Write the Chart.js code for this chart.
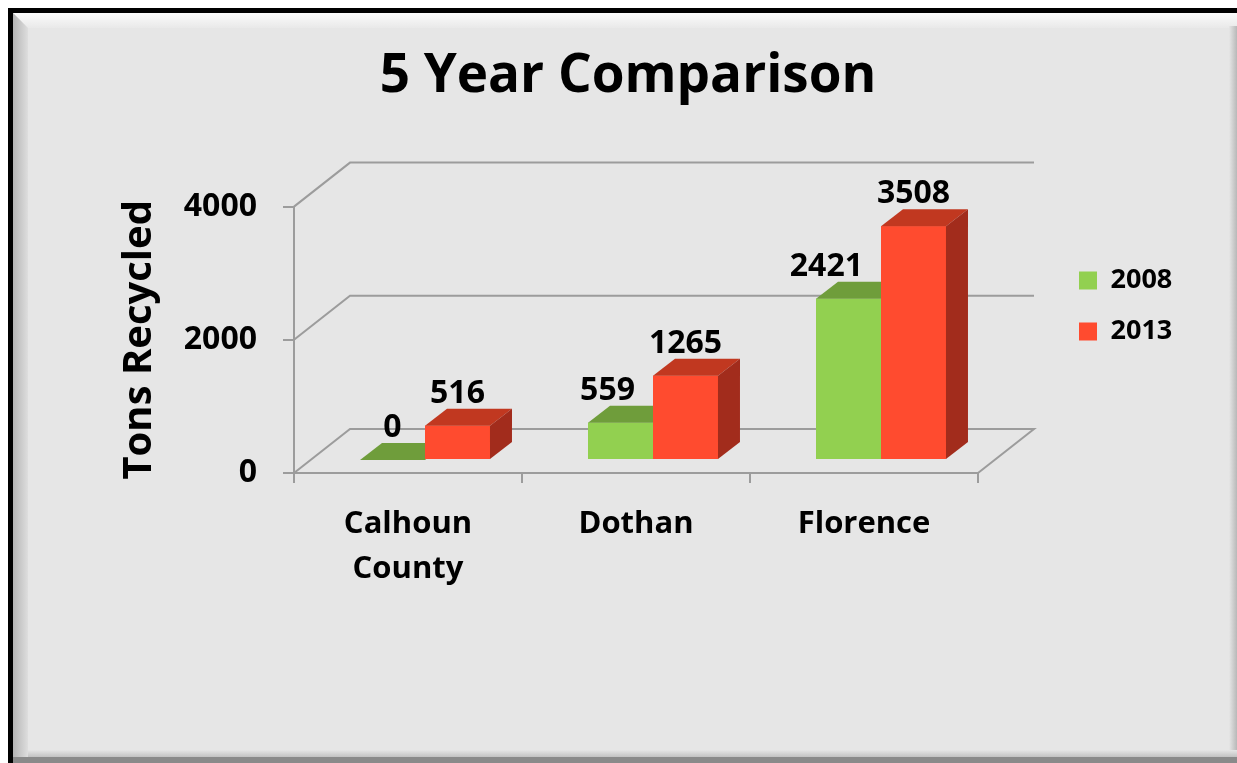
<!DOCTYPE html>
<html>
<head>
<meta charset="utf-8">
<script src="https://cdn.jsdelivr.net/npm/chart.js@4.4.1/dist/chart.umd.min.js"></script>
<style>
  html, body { margin: 0; padding: 0; background: #fff; }
  canvas { display: block; }
</style>
</head>
<body>
<canvas id="chart" width="1237" height="763"></canvas>
<script>
// values
var categories = [['Calhoun', 'County'], 'Dothan', 'Florence'];
var seriesNames = ['2008', '2013'];
var tons2008 = [0, 559, 2421];
var tons2013 = [516, 1265, 3508];
var yTicks = [0, 2000, 4000];

// colours of the front, top and side faces of each series
var frontColors = ['#92d050', '#ff4b2f'];
var topColors = ['#6f9d3b', '#c13820'];
var sideColors = ['#5d8631', '#a22c1c'];
var GRID = '#9c9c9c';

// fake 3d geometry (pixels)
var BAR_SHIFT = {x: 17, y: -13};     // bars sit a bit behind the front plane
var BAR_DEPTH = {x: 22, y: -17};
var WALL_DEPTH = {x: 56, y: -44};
var LABEL_GAP = -23;                 // label baseline above the bar front top
var LABEL_CLEAR = 18;                // keep left labels clear of the next bar
var PLOT_RIGHT = 978;
var TITLE_CENTER_X = 628;
var LEGEND_ROW = {x: 1079, y: 267};

Chart.defaults.font.family = '"Open Sans", "Noto Sans", sans-serif';
Chart.defaults.color = '#000';

function fillPoly(ctx, pts, color) {
  ctx.beginPath();
  ctx.moveTo(pts[0][0], pts[0][1]);
  for (var i = 1; i < pts.length; i++) ctx.lineTo(pts[i][0], pts[i][1]);
  ctx.closePath();
  ctx.fillStyle = color;
  ctx.fill();
}

// grey panel with a black edge and bevel, like the slide frame
var framePlugin = {
  id: 'frame',
  beforeDraw: function(chart) {
    var ctx = chart.ctx, w = chart.width, h = chart.height;
    ctx.save();
    ctx.fillStyle = '#fff';
    ctx.fillRect(0, 0, w, h);
    ctx.fillStyle = '#000';
    ctx.fillRect(8, 8, w - 8, h - 8);
    ctx.fillStyle = '#e6e6e6';
    ctx.fillRect(13, 13, w - 13, h - 13);

    var g = ctx.createLinearGradient(0, 13, 0, 28);
    g.addColorStop(0, '#fbfbfb');
    g.addColorStop(1, '#e9e9e9');
    fillPoly(ctx, [[13, 13], [w, 13], [w, 28], [28, 28]], g);

    g = ctx.createLinearGradient(13, 0, 28, 0);
    g.addColorStop(0, '#b4b4b4');
    g.addColorStop(1, '#dedede');
    fillPoly(ctx, [[13, 13], [28, 28], [28, h], [13, h]], g);

    g = ctx.createLinearGradient(w - 8, 0, w, 0);
    g.addColorStop(0, '#e6e6e6');
    g.addColorStop(1, '#b8b8b8');
    ctx.fillStyle = g;
    ctx.fillRect(w - 8, 26, 8, h - 26);

    g = ctx.createLinearGradient(0, h - 13, 0, h - 6);
    g.addColorStop(0, '#e6e6e6');
    g.addColorStop(1, '#c2c2c2');
    ctx.fillStyle = g;
    ctx.fillRect(28, h - 13, w - 28, 7);
    ctx.fillStyle = '#8a8a8a';
    ctx.fillRect(13, h - 6, w - 13, 6);
    ctx.restore();
  },
  afterLayout: function(chart) {
    // move the title and legend to where the original has them
    var tb = chart.titleBlock;
    var s = TITLE_CENTER_X - (tb.left + tb.right) / 2;
    tb.left += s;
    tb.right += s;

    var lg = chart.legend;
    var pad = lg.options.labels.padding;
    var dx = LEGEND_ROW.x - pad - lg.left;
    var dy = LEGEND_ROW.y - pad - lg.top;
    lg.left += dx; lg.right += dx;
    lg.top += dy; lg.bottom += dy;
  }
};

// side wall, back wall and floor, then the bar tops and sides
var bars3dPlugin = {
  id: 'bars3d',
  beforeDatasetsDraw: function(chart) {
    var ctx = chart.ctx, area = chart.chartArea, ys = chart.scales.y;
    ctx.save();
    ctx.strokeStyle = GRID;
    ctx.lineWidth = 2;
    ys.ticks.forEach(function(t) {
      var py = ys.getPixelForValue(t.value);
      ctx.beginPath();
      ctx.moveTo(area.left, py);
      ctx.lineTo(area.left + WALL_DEPTH.x, py + WALL_DEPTH.y);
      ctx.lineTo(area.right + WALL_DEPTH.x, py + WALL_DEPTH.y);
      if (t.value === 0) ctx.lineTo(area.right, py);
      ctx.stroke();
    });
    ctx.restore();
    ctx.save();
    ctx.translate(BAR_SHIFT.x, BAR_SHIFT.y);
  },
  afterDatasetsDraw: function(chart) {
    var ctx = chart.ctx;
    var n = chart.data.datasets.length;
    // redraw series in order so the right bar hides the left bar's side
    chart.data.datasets.forEach(function(ds, di) {
      chart.getDatasetMeta(di).data.forEach(function(bar) {
        var p = bar.getProps(['x', 'y', 'width', 'base'], true);
        var l = p.x - p.width / 2, r = p.x + p.width / 2;
        bar.draw(ctx);
        fillPoly(ctx, [[l, p.y], [r, p.y], [r + BAR_DEPTH.x, p.y + BAR_DEPTH.y], [l + BAR_DEPTH.x, p.y + BAR_DEPTH.y]], topColors[di]);
        fillPoly(ctx, [[r, p.y], [r + BAR_DEPTH.x, p.y + BAR_DEPTH.y], [r + BAR_DEPTH.x, p.base + BAR_DEPTH.y], [r, p.base]], sideColors[di]);
      });
    });
    ctx.restore();

    ctx.save();
    ctx.font = 'bold 32px "Open Sans", "Noto Sans", sans-serif';
    ctx.fillStyle = '#000';
    ctx.textAlign = 'center';
    ctx.textBaseline = 'alphabetic';
    chart.data.datasets.forEach(function(ds, di) {
      chart.getDatasetMeta(di).data.forEach(function(bar, i) {
        var text = String(ds.data[i]);
        var x = bar.x + BAR_SHIFT.x;
        if (di < n - 1) {
          var half = ctx.measureText(text).width / 2;
          x = Math.min(x, x + bar.width / 2 - LABEL_CLEAR - half);
        }
        ctx.fillText(text, x, bar.y + BAR_SHIFT.y + LABEL_GAP);
      });
    });
    ctx.restore();
  }
};

var chart = new Chart(document.getElementById('chart'), {
  type: 'bar',
  data: {
    labels: categories,
    datasets: [
      {label: seriesNames[0], data: tons2008, backgroundColor: frontColors[0], borderWidth: 0, clip: false},
      {label: seriesNames[1], data: tons2013, backgroundColor: frontColors[1], borderWidth: 0, clip: false}
    ]
  },
  options: {
    responsive: false,
    animation: false,
    events: [],
    layout: {padding: {left: 0, right: 100, top: 0, bottom: 0}},
    datasets: {bar: {categoryPercentage: 0.57, barPercentage: 1.0}},
    plugins: {
      title: {
        display: true,
        text: '5 Year Comparison',
        color: '#000',
        font: {size: 53, weight: 'bold'},
        padding: {top: 45, bottom: 98}
      },
      legend: {
        position: 'right',
        align: 'start',
        labels: {
          boxWidth: 18,
          boxHeight: 18,
          padding: 24,
          color: '#000',
          font: {size: 27, weight: 'bold'},
          sort: function(a, b) { return a.datasetIndex - b.datasetIndex; }
        }
      },
      tooltip: {enabled: false}
    },
    scales: {
      x: {
        afterFit: function(scale) { scale.height = 290; },
        grid: {drawOnChartArea: false, drawTicks: true, tickLength: 10, color: GRID, lineWidth: 2},
        border: {display: true, color: GRID, width: 2},
        ticks: {
          color: '#000',
          padding: 19,
          maxRotation: 0,
          font: {size: 31, weight: 'bold', lineHeight: 1.45}
        }
      },
      y: {
        min: yTicks[0],
        max: yTicks[yTicks.length - 1],
        afterFit: function(scale) { scale.width = 294; },
        afterBuildTicks: function(scale) {
          scale.ticks = yTicks.map(function(v) { return {value: v}; });
        },
        grid: {drawOnChartArea: false, drawTicks: true, tickLength: 11, color: GRID, lineWidth: 2},
        border: {display: true, color: GRID, width: 2},
        ticks: {
          color: '#000',
          padding: 26,
          font: {size: 32, weight: 'bold'},
          callback: function(v) { return String(v); }
        },
        title: {
          display: true,
          text: 'Tons Recycled',
          color: '#000',
          font: {size: 40, weight: 'bold'},
          padding: {top: 116, bottom: 0}
        }
      }
    }
  },
  plugins: [framePlugin, bars3dPlugin]
});

// fit the plot's right edge to the reference once the legend width is known
chart.options.layout.padding.right = chart.width - PLOT_RIGHT - chart.legend.width;
chart.update();
</script>
</body>
</html>
